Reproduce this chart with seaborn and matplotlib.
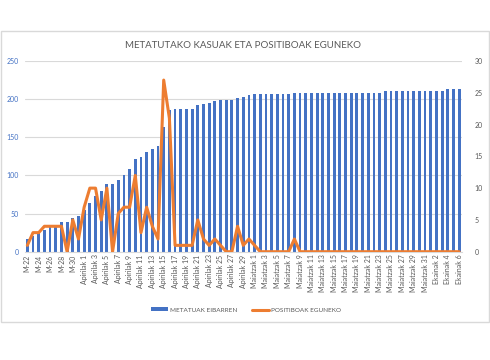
import numpy as np
import pandas as pd
import matplotlib
matplotlib.use('Agg')
import matplotlib.pyplot as plt
import seaborn as sns
from matplotlib.patches import Patch, Rectangle
from matplotlib.lines import Line2D

# Categories (days)
dates = ([f"M-{d}" for d in range(22, 32)]
         + [f"Apirilak {d}" for d in range(1, 31)]
         + [f"Maiatzak {d}" for d in range(1, 32)]
         + [f"Ekainak {d}" for d in range(1, 7)])

# Cumulative cases (left axis)
metatuak = [17, 21, 24, 28, 32, 35, 39, 39, 44, 47,
            55, 64, 73, 79, 89, 89, 94, 101, 108, 121,
            124, 131, 135, 138, 164, 186, 187, 187, 187, 187,
            192, 194, 195, 197, 199, 199, 199, 201, 203, 205,
            207, 207, 207, 207, 207, 207, 207, 208, 208, 208,
            208, 208, 208, 208, 208, 208, 208, 208, 208, 208,
            208, 208, 208, 211, 211, 211, 211, 211, 211, 211,
            211, 211, 211, 211, 213, 213, 213]

# Daily positives (right axis)
positiboak = [1, 3, 3, 4, 4, 4, 4, 0, 5, 2,
              7, 10, 10, 5, 10, 0, 6, 7, 7, 12,
              3, 7, 4, 2, 27, 21, 1, 1, 1, 1,
              5, 2, 1, 2, 1, 0, 0, 4, 1, 2,
              1, 0, 0, 0, 0, 0, 0, 2, 0, 0,
              0, 0, 0, 0, 0, 0, 0, 0, 0, 0,
              0, 0, 0, 0, 0, 0, 0, 0, 0, 0,
              0, 0, 0, 0, 0, 0, 0]

left_ticks = [0, 50, 100, 150, 200, 250]
right_ticks = [0, 5, 10, 15, 20, 25, 30]

title = "METATUTAKO KASUAK ETA POSITIBOAK EGUNEKO"
lbl_bar = "METATUAK EIBARREN"
lbl_line = "POSITIBOAK EGUNEKO"

BLUE = '#4472C4'
ORANGE = '#ED7D31'
GRAY = '#595959'
GRID = '#d9d9d9'

sns.set_theme(style='white')
plt.rcParams['font.family'] = ['Lato', 'DejaVu Sans']

W, H = 490, 360
fig = plt.figure(figsize=(W / 100, H / 100), dpi=100)
fig.patch.set_facecolor('white')

# outer chart border
fig.add_artist(Rectangle((1 / W, (H - 322) / H), 488 / W, 291 / H,
                         transform=fig.transFigure, fill=False,
                         edgecolor=GRID, lw=1))

ax = fig.add_axes([24.5 / W, (H - 251.7) / H, (462 - 24.5) / W, (251.7 - 61) / H])

df = pd.DataFrame({'data': dates, 'metatuak': metatuak,
                   'positiboak': positiboak, 'i': np.arange(len(dates))})

sns.barplot(data=df, x='data', y='metatuak', color=BLUE, width=0.5,
            saturation=1, ax=ax, zorder=2, linewidth=0, edgecolor='none')

ax2 = ax.twinx()
sns.lineplot(data=df, x='i', y='positiboak', color=ORANGE, lw=2.2, ax=ax2)

ax.set_xlim(-0.5, len(dates) - 0.5)
ax.set_ylim(0, 250)
ax2.set_ylim(0, 30)

ax.set_yticks(left_ticks)
ax.set_yticklabels([str(t) for t in left_ticks])
ax2.set_yticks(right_ticks)
ax2.set_yticklabels([str(t) for t in right_ticks])

ax.set_xticks(range(0, len(dates), 2))
ax.set_xticklabels(dates[::2], rotation=90)

ax.yaxis.grid(True, color=GRID, lw=0.8)
ax.set_axisbelow(True)
ax2.grid(False)

for s in ['top', 'left', 'right']:
    ax.spines[s].set_visible(False)
    ax2.spines[s].set_visible(False)
ax.spines['bottom'].set_color(GRID)
ax.spines['bottom'].set_linewidth(0.8)
ax2.spines['bottom'].set_visible(False)

ax.tick_params(axis='y', length=0, labelsize=5, labelcolor=BLUE, pad=4)
ax.tick_params(axis='x', length=0, labelsize=5, labelcolor=GRAY, pad=2)
ax2.tick_params(axis='y', length=0, labelsize=5, labelcolor=GRAY, pad=9)

for a in (ax, ax2):
    a.set_xlabel('')
    a.set_ylabel('')

fig.text(243 / W, (H - 45) / H, title, ha='center', va='center',
         fontsize=7, color=GRAY)

handles = [Patch(facecolor=BLUE, edgecolor='none', label=lbl_bar),
           Line2D([], [], color=ORANGE, lw=2.2, label=lbl_line)]
fig.legend(handles=handles, loc='center', bbox_to_anchor=(246 / W, (H - 310) / H),
           ncol=2, frameon=False, fontsize=4.6, handlelength=2.7, handleheight=0.5,
           columnspacing=2.2, handletextpad=0.3, labelcolor=GRAY)

fig.savefig('out.png', dpi=100, facecolor='white')
